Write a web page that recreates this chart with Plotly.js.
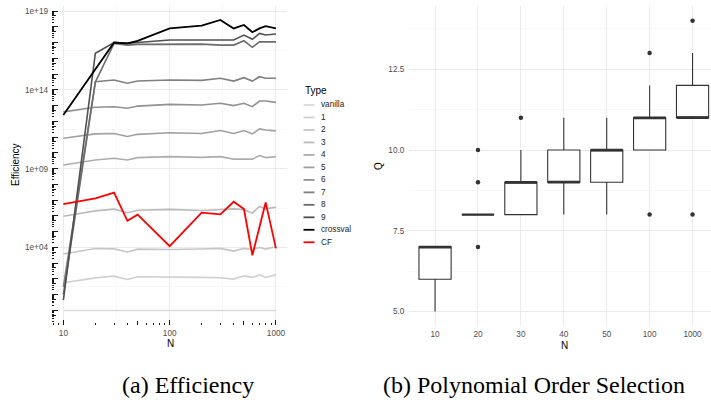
<!DOCTYPE html>
<html><head><meta charset="utf-8">
<script src="https://cdn.plot.ly/plotly-3.0.1.min.js"></script>
<style>html,body{margin:0;padding:0;background:#fff}#chart{width:711px;height:400px}</style>
</head><body><div id="chart"></div>
<script>
// ---------- Data: panel (a) Efficiency ----------
const N = [10, 20, 30, 40, 50, 100, 200, 300, 400, 500, 600, 700, 800, 1000];
const effVanilla = [1, 1, 1, 1, 1, 1, 1, 1, 1, 1, 1, 1, 1, 1];
const eff1 = [58, 117, 151, 93, 138, 138, 126, 120, 98, 158, 126, 182, 126, 182];
const eff2 = [3800, 8500, 8100, 5200, 7800, 7400, 7900, 8700, 5900, 8700, 7400, 10000, 7800, 11000];
const eff3 = [9.5e5, 2.1e6, 2.7e6, 1.6e6, 2.3e6, 2.6e6, 2.2e6, 2.5e6, 2.8e6, 2.5e6, 1.5e6, 4.0e6, 2.8e6, 3.6e6];
const eff4 = [1.7e9, 3.5e9, 4.6e9, 3.5e9, 5.0e9, 5.8e9, 5.2e9, 5.8e9, 4.0e9, 4.2e9, 4.0e9, 6.8e9, 5.0e9, 5.8e9];
const eff5 = [8.5e10, 1.6e11, 1.7e11, 1.1e11, 1.5e11, 1.9e11, 1.7e11, 2.6e11, 1.7e11, 2.6e11, 1.6e11, 3.3e11, 2.8e11, 2.5e11];
const eff6 = [4.0e12, 7.9e12, 8.5e12, 6.8e12, 9.3e12, 1.2e13, 1.1e13, 1.4e13, 1.0e13, 1.4e13, 8.5e12, 1.95e13, 1.95e13, 1.6e13];
const eff7 = [32, 3.3e14, 4.2e14, 2.6e14, 3.6e14, 4.2e14, 4.0e14, 5.4e14, 3.6e14, 5.9e14, 3.6e14, 6.8e14, 5.4e14, 5.4e14];
const eff8 = [10, 3.2e14, 8.9e16, 6.9e16, 7.6e16, 7.9e16, 7.9e16, 6.9e16, 6.9e16, 1.3e17, 5.0e16, 1.1e17, 1.1e17, 1.1e17];
const eff9 = [4.6, 2.1e16, 1.0e17, 8.9e16, 1.0e17, 1.45e17, 1.45e17, 1.45e17, 1.45e17, 3.0e17, 1.6e17, 3.8e17, 3.0e17, 3.5e17];
const effCrossval = [2.5e12, 1.8e15, 1.0e17, 8.9e16, 1.26e17, 7.9e17, 1.2e18, 2.7e18, 7.9e17, 1.3e18, 4.5e17, 7.9e17, 1.1e18, 7.9e17];
const effCF = [5.6e6, 1.3e7, 3.0e7, 4.9e5, 1.2e6, 1.2e4, 1.6e6, 1.26e6, 7.9e6, 2.7e6, 3200, 1.6e5, 7.2e6, 8700];

const seriesNames = ['vanilla', '1', '2', '3', '4', '5', '6', '7', '8', '9', 'crossval', 'CF'];
const seriesValues = [effVanilla, eff1, eff2, eff3, eff4, eff5, eff6, eff7, eff8, eff9, effCrossval, effCF];
const seriesColors = ['#dadada', '#d0d0d0', '#c6c6c6', '#bababa', '#adadad', '#a0a0a0',
                      '#919191', '#808080', '#6c6c6c', '#505050', '#000000', '#ff0000'];
const effTickVals = [1e4, 1e9, 1e14, 1e19];
const effTickText = ['1e+04', '1e+09', '1e+14', '1e+19'];
const nTickVals = [10, 100, 1000];
const nTickText = ['10', '100', '1000'];

// ---------- Data: panel (b) Polynomial order selection ----------
const boxN = ['10', '20', '30', '40', '50', '100', '1000'];
const boxQ1 = [6, 8, 8, 9, 9, 10, 11];
const boxMedian = [7, 8, 9, 9, 10, 11, 11];
const boxQ3 = [7, 8, 9, 10, 10, 11, 12];
const boxLower = [5, 8, 8, 8, 8, 10, 11];
const boxUpper = [7, 8, 10, 11, 11, 12, 13];
const outlierN = ['20', '20', '20', '30', '100', '100', '1000', '1000'];
const outlierQ = [7, 9, 10, 11, 8, 13, 8, 14];
const qTickVals = [5, 7.5, 10, 12.5];
const qTickText = ['5.0', '7.5', '10.0', '12.5'];

// ---------- Layout helpers ----------
const W = 711, H = 400;
const px = v => v / W;
const py = v => 1 - v / H;
const SANS = 'Liberation Sans, Arial, Helvetica, sans-serif';
const SERIF = 'Liberation Serif, Times New Roman, serif';
const GRID = '#ebebeb', GRID_MINOR = '#f3f3f3';
const tickFont = {family: SANS, size: 8.2, color: '#4d4d4d'};

function logVals(kLo, kHi, mults) {
  const out = [];
  for (let k = kLo; k <= kHi; k++) for (const m of mults) out.push(m * Math.pow(10, k));
  return out;
}

const xRangeA = [0.893, 3.104];
const yRangeA = [-0.92, 19.35];

// grey series on the main subplot; crossval and CF on the overlaid
// (same-range) subplots that carry the log tick marks
const axesFor = i => (i === 10 ? ['x3', 'y3'] : i === 11 ? ['x4', 'y4'] : ['x', 'y']);

const traces = [];
seriesNames.forEach((name, i) => {
  const ax = axesFor(i);
  traces.push({
    type: 'scatter', mode: 'lines', name: name,
    x: N, y: seriesValues[i], xaxis: ax[0], yaxis: ax[1],
    line: {color: seriesColors[i], width: i >= 10 ? 1.8 : 1.6},
    hoverinfo: 'skip', showlegend: false
  });
});

traces.push({
  type: 'box', xaxis: 'x2', yaxis: 'y2', x: boxN,
  q1: boxQ1, median: boxMedian, q3: boxQ3, lowerfence: boxLower, upperfence: boxUpper,
  fillcolor: '#ffffff', line: {color: '#333333', width: 1.1},
  whiskerwidth: 0, width: 0.75, boxpoints: false, hoverinfo: 'skip', showlegend: false
});
traces.push({
  type: 'scatter', mode: 'markers', xaxis: 'x2', yaxis: 'y2', x: boxN, y: boxMedian,
  marker: {symbol: 'line-ew', size: 23, line: {width: 2.4, color: '#333333'}},
  hoverinfo: 'skip', showlegend: false
});
traces.push({
  type: 'scatter', mode: 'markers', xaxis: 'x2', yaxis: 'y2', x: outlierN, y: outlierQ,
  marker: {size: 4.5, color: '#333333'}, hoverinfo: 'skip', showlegend: false
});

const tickStyle = {ticks: 'inside', tickcolor: '#000000', tickwidth: 0.9, showticklabels: false,
                   showgrid: false, zeroline: false, showline: false, type: 'log'};

const layout = {
  width: W, height: H, margin: {l: 0, r: 0, t: 0, b: 0},
  paper_bgcolor: '#ffffff', plot_bgcolor: '#ffffff', showlegend: false,
  xaxis: {
    domain: [px(52), px(287)], anchor: 'y', type: 'log', range: xRangeA,
    tickmode: 'array', tickvals: nTickVals, ticktext: nTickText, tickfont: tickFont,
    ticks: '', showgrid: true, gridcolor: GRID, gridwidth: 1, zeroline: false, showline: false,
    ticklabelstandoff: 2,
    minor: {tickmode: 'array', tickvals: [Math.pow(10, 1.5), Math.pow(10, 2.5)], ticks: '',
            showgrid: true, gridcolor: GRID_MINOR, gridwidth: 0.6}
  },
  yaxis: {
    domain: [py(325), py(5.5)], anchor: 'x', type: 'log', range: yRangeA,
    tickmode: 'array', tickvals: effTickVals, ticktext: effTickText, tickfont: tickFont,
    ticks: '', showgrid: true, gridcolor: GRID, gridwidth: 1, zeroline: false, showline: false,
    ticklabelstandoff: 3,
    minor: {tickmode: 'array', tickvals: [Math.pow(10, 1.5), Math.pow(10, 6.5), Math.pow(10, 11.5), Math.pow(10, 16.5)],
            ticks: '', showgrid: true, gridcolor: GRID_MINOR, gridwidth: 0.6}
  },
  xaxis3: Object.assign({}, tickStyle, {
    overlaying: 'x', anchor: 'y', side: 'bottom', range: xRangeA,
    tickmode: 'array', tickvals: logVals(0, 3, [1]), ticklen: 5.5,
    minor: {tickmode: 'array', tickvals: logVals(0, 3, [5]), ticks: 'inside', ticklen: 3.6,
            tickwidth: 0.9, tickcolor: '#000000', showgrid: false}
  }),
  xaxis4: Object.assign({}, tickStyle, {
    overlaying: 'x', anchor: 'y', side: 'bottom', range: xRangeA,
    tickmode: 'array', tickvals: logVals(0, 3, [2, 3, 4, 6, 7, 8, 9]), ticklen: 2
  }),
  yaxis3: Object.assign({}, tickStyle, {
    overlaying: 'y', anchor: 'x', side: 'left', range: yRangeA,
    tickmode: 'array', tickvals: logVals(-1, 19, [1]), ticklen: 5.5,
    minor: {tickmode: 'array', tickvals: logVals(-1, 19, [5]), ticks: 'inside', ticklen: 3.6,
            tickwidth: 0.9, tickcolor: '#000000', showgrid: false}
  }),
  yaxis4: Object.assign({}, tickStyle, {
    overlaying: 'y', anchor: 'x', side: 'left', range: yRangeA,
    tickmode: 'array', tickvals: logVals(-1, 19, [2, 3, 4, 6, 7, 8, 9]), ticklen: 2
  }),
  xaxis2: {
    domain: [px(409.3), 1], anchor: 'y2', type: 'category',
    categoryorder: 'array', categoryarray: boxN, range: [-0.6, 6.43],
    tickfont: tickFont, ticks: '', showgrid: true, gridcolor: GRID, gridwidth: 1,
    zeroline: false, showline: false, ticklabelstandoff: 2
  },
  yaxis2: {
    domain: [py(326), py(6.3)], anchor: 'x2', range: [4.55, 14.45],
    tickmode: 'array', tickvals: qTickVals, ticktext: qTickText, tickfont: tickFont,
    ticks: '', showgrid: true, gridcolor: GRID, gridwidth: 1, zeroline: false, showline: false,
    ticklabelstandoff: 4,
    minor: {tickmode: 'array', tickvals: [6.25, 8.75, 11.25, 13.75], ticks: '',
            showgrid: true, gridcolor: GRID_MINOR, gridwidth: 0.6}
  },
  annotations: [],
  shapes: []
};

const ann = (text, x, y, opts) => Object.assign({
  text: text, x: px(x), y: py(y), xref: 'paper', yref: 'paper', showarrow: false,
  xanchor: 'center', yanchor: 'middle', font: {family: SANS, size: 10, color: '#000000'}
}, opts || {});

// axis titles
layout.annotations.push(ann('N', 170, 343.5));
layout.annotations.push(ann('Efficiency', 15, 165, {textangle: -90}));
layout.annotations.push(ann('N', 564, 345.5));
layout.annotations.push(ann('Q', 378, 166, {textangle: -90}));

// legend (built from the series names and colours)
layout.annotations.push(ann('Type', 302.5, 90.7, {xanchor: 'left'}));
seriesNames.forEach((name, i) => {
  const yy = 105 + 12.48 * i;
  layout.shapes.push({type: 'line', xref: 'paper', yref: 'paper',
    x0: px(303.5), x1: px(314.5), y0: py(yy), y1: py(yy),
    line: {color: seriesColors[i], width: 1.8}});
  layout.annotations.push(ann(name, 319.3, yy, {xanchor: 'left',
    font: {family: SANS, size: 8.2, color: '#222222'}}));
});

// sub-figure captions
layout.annotations.push(ann('(a) Efficiency', 188, 385,
  {font: {family: SERIF, size: 24, color: '#000000'}}));
layout.annotations.push(ann('(b) Polynomial Order Selection', 381, 385,
  {xanchor: 'left', font: {family: SERIF, size: 24, color: '#000000'}}));

Plotly.newPlot('chart', traces, layout, {staticPlot: true, displayModeBar: false});
</script>
</body></html>
